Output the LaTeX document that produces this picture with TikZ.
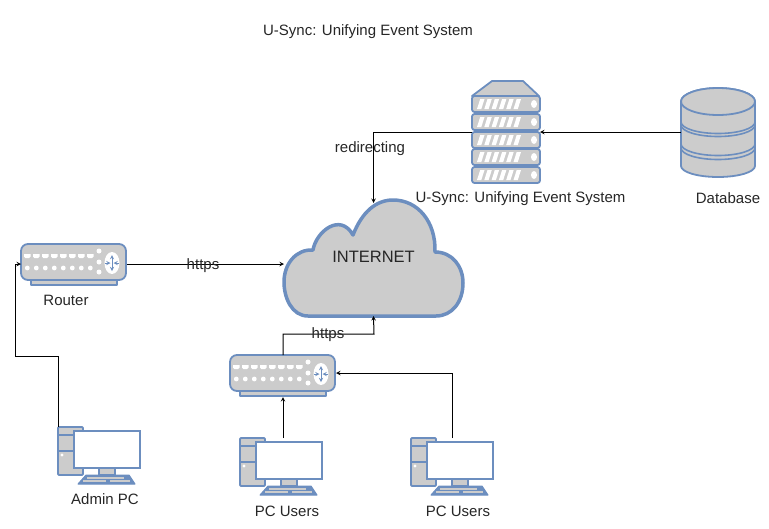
\documentclass[tikz,border=0pt]{standalone}
\usepackage{fontspec}
\setmainfont{Liberation Sans}
\usetikzlibrary{arrows,positioning,calc}
\definecolor{devfill}{HTML}{CCCCCC}
\definecolor{devline}{HTML}{6C8EBF}
\tikzset{
    devshape/.style={draw=devline, fill=devfill, line width=1.8pt, line join=round},
    cutout/.style={fill=white, draw=none},
    spot/.style={minimum width=#1, inner sep=0pt, outer sep=0pt},
    link/.style={draw=black, ->, >=stealth, line width=1pt},
    label/.style={font=\fontsize{15}{18}\selectfont, text=black!85, inner sep=0pt},
    router/.pic={
        \draw [devshape] (10,36) rectangle (96,41);
        \draw [devshape, rounded corners=7pt] (0,0) rectangle (105,36);
        % Ports
        \foreach \i in {0,...,7}
        {
        \fill [cutout] (3+\i*9,10) -- ++(6.5,0) -- ++(0,2.5) -- ++(-1.5,1.5) -- ++(-3.5,0) -- ++(-1.5,-1.5) -- cycle;
        \fill [cutout] (6.3+\i*9,24) circle (2.4);
        }
        \foreach \j in {7,18,28}
        {
        \fill [cutout] (78,\j) circle (2.5);
        }
        \fill [cutout] (91,19) ellipse (7.5 and 11);
        \draw [devline, line width=0.9pt, <->, >=stealth] (91,11) -- (91,27);
        \draw [devline, line width=0.9pt, ->, >=stealth] (84,19) -- (89.5,19);
        \draw [devline, line width=0.9pt, ->, >=stealth] (98,19) -- (92.5,19);
    },
    desktop/.pic={
        \draw [devshape, rounded corners=1pt] (0,0) rectangle (25,48);
        \draw [devline, line width=1.6pt] (0,8) -- (25,8) (0,24) -- (25,24);
        \fill [cutout] (4,28) circle (1.7);
        \draw [devshape] (41,41) rectangle (57,48);
        \draw [draw=devline, fill=devline, line width=1pt, line join=round] (28,48) -- (71,48) -- (77,57) -- (20,57) -- cycle;
        \draw [devfill, line width=1.6pt] (29,51) -- (66,51) (25,54) -- (48,54) (52,54) -- (72,54);
        \draw [devline, fill=white, line width=1.8pt] (16,4) rectangle (82,41);
    },
    rack/.pic={
        \draw [devshape] (0,15) -- (20,0) -- (51,0) -- (67,15) -- cycle;
        \foreach \y in {15,33,51,68,86}
        {
        \draw [devshape, rounded corners=2.5pt] (0,\y) rectangle (68,\y+16);
        % Stripes
        \foreach \s in {0,...,5}
        {
        \fill [cutout] (5+\s*7.3,\y+13) -- ++(3.2,-10) -- ++(4.3,0) -- ++(-3.2,10) -- cycle;
        }
        \fill [cutout] (62,\y+8) ellipse (3 and 4);
        }
    },
    datastore/.pic={
        \draw [devshape] (0,14.5) -- (0,79) arc [start angle=180, end angle=0, x radius=37, y radius=11]
            -- (74,14.5) arc [start angle=0, end angle=-180, x radius=37, y radius=13.5];
        \draw [devshape] (37,14.5) ellipse (37 and 13.5);
        \foreach \y in {35,38,57,61}
        {
        \draw [devline, line width=1.6pt] (0,\y) arc [start angle=180, end angle=0, x radius=37, y radius=11.5];
        }
    }
}
\begin{document}
\begin{tikzpicture}[x=1pt, y=-1pt]
        \useasboundingbox (0,0) rectangle (769,528);
        % Cloud
        \draw [devshape, line width=3.5pt]
            (308,316) .. controls (292,316) and (284,298) .. (284,282)
            .. controls (284,264) and (296,249) .. (313,250)
            .. controls (316,232) and (340,212) .. (353,235)
            .. controls (362,212) and (376,200) .. (393,200)
            .. controls (418,200) and (436,222) .. (435,252)
            .. controls (452,252) and (463,266) .. (463,283)
            .. controls (463,302) and (452,316) .. (436,316)
            -- cycle;
        % Devices
        \pic at (21,244) {router};
        \pic at (230,355) {router};
        \pic at (58,427) {desktop};
        \pic at (240,438) {desktop};
        \pic at (411,438) {desktop};
        \pic at (472,81) {rack};
        \pic at (681,87) {datastore};
        % Named spots
        \node (cloud) [spot=179pt, minimum height=113pt] at (373.5,259.5) {};
        \node (router) [spot=106pt, minimum height=41pt] at (74,264) {};
        \node (switch) [spot=106pt, minimum height=42pt] at (283,376) {};
        \node (adminpc) [spot=82pt, minimum height=58pt] at (99,456) {};
        \node (pcleft) [spot=82pt, minimum height=58pt] at (281,467) {};
        \node (pcright) [spot=82pt, minimum height=58pt] at (452,467) {};
        \node (server) [spot=68pt, minimum height=102pt] at (506,132) {};
        \node (database) [spot=74pt, minimum height=91pt] at (718,132) {};
        \coordinate (adminturn) at (15,356);
        \coordinate (switchturn) at (374,334);
        % Connectors
        \draw [link] (router.east) -- (router.east -| cloud.west);
        \draw [link] (adminpc.north west) |- (adminturn) |- (router.west);
        \draw [link] (switch.north) |- (switchturn) -- (cloud.south);
        \draw [link] (pcleft.north -| switch.south) -- (switch.south);
        \draw [link] (pcright.north) |- ([yshift=3pt]switch.east);
        \draw [link] (database.west) -- (server.east);
        \draw [link] (server.west) -| (cloud.north);
        % Labels
        \node (title) [label] at (368,31.5) {U-Sync: Unifying Event System};
        \node (internet) [label, font=\fontsize{16.5}{18}\selectfont] at (373.5,257) {INTERNET};
        \node (serverlabel) [label] at (520.5,199) {U-Sync: Unifying Event System};
        \node (databaselabel) [label] at (728,198.5) {Database};
        \node (routerlabel) [label] at (66,300.5) {Router};
        \node (adminlabel) [label] at (105,499) {Admin PC};
        \node (pcleftlabel) [label] at (287,511.5) {PC Users};
        \node (pcrightlabel) [label] at (458,511.5) {PC Users};
        \node (redirectlabel) [label] at (370,148.5) {redirecting};
        \node (httpsleft) [label] at (203,266) {https};
        \node (httpsright) [label] at (328,334.5) {https};
\end{tikzpicture}
\end{document}
